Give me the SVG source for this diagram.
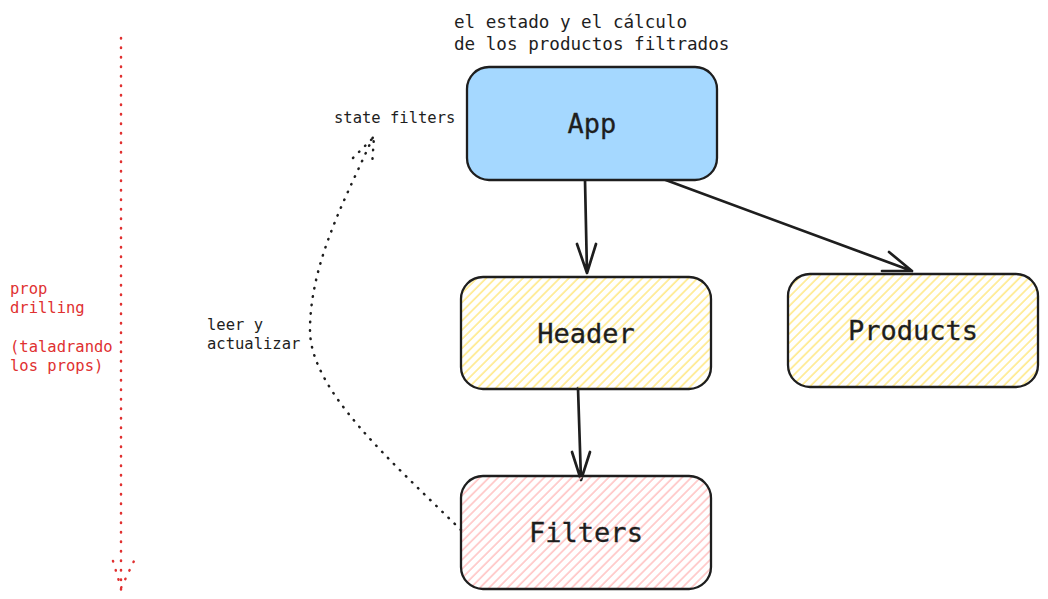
<svg xmlns="http://www.w3.org/2000/svg" width="1048" height="599" viewBox="0 0 1048 599">
<defs>
<pattern id="hy" width="6.5" height="6.5" patternUnits="userSpaceOnUse" patternTransform="rotate(45)"><line x1="1" y1="0" x2="1" y2="6.5" stroke="#ffe98a" stroke-width="1.6"/></pattern>
<pattern id="hp" width="6.5" height="6.5" patternUnits="userSpaceOnUse" patternTransform="rotate(45)"><line x1="1" y1="0" x2="1" y2="6.5" stroke="#ffc4c4" stroke-width="1.6"/></pattern>
</defs>
<style>
.box{stroke:#1e1e1e;stroke-width:2.3}
.lbl{font-family:"DejaVu Sans Mono","Liberation Mono",monospace;font-size:27px;fill:#1e1e1e;text-anchor:middle;stroke:#1e1e1e;stroke-width:0.3}
.note{font-family:"DejaVu Sans Mono","Liberation Mono",monospace;font-size:15.5px;fill:#1e1e1e}
.big{font-size:17.6px}
.red{fill:#e03131}
.arr{fill:none;stroke:#1e1e1e;stroke-width:2.7;stroke-linecap:round;stroke-linejoin:round}
.dot{fill:none;stroke:#1e1e1e;stroke-width:2.5;stroke-linecap:round;stroke-dasharray:0.5 8}
.rdot{fill:none;stroke:#e03131;stroke-width:2.5;stroke-linecap:round;stroke-dasharray:0.5 9}
</style>
<rect width="1048" height="599" fill="#ffffff"/>
<text class="note big" x="454" y="28">el estado y el cálculo</text>
<text class="note big" x="454" y="50">de los productos filtrados</text>
<text class="note" x="334" y="123">state filters</text>
<text class="note" x="207" y="330">leer y</text>
<text class="note" x="207" y="349">actualizar</text>
<g class="note red">
<text x="10" y="294">prop</text>
<text x="10" y="313">drilling</text>
<text x="10" y="352">(taladrando</text>
<text x="10" y="371">los props)</text>
</g>
<g id="connectors">
<path class="arr" d="M585 180 L587 273 M577 244 L587 273 L596 244"/>
<path class="arr" d="M663 179 L912 271 M889 252 L912 271 L882 271"/>
<path class="arr" d="M578 388 L581 480 M572 452 L581 480 L590 452"/>
<path class="dot" d="M461 530 C390 460 310 390 310 330 C310 260 350 190 373 137"/>
<path class="dot" d="M353 158 L374 137 L372 166"/>
<path class="rdot" d="M121 38 L121 590"/>
<path class="rdot" d="M113 561 L121 588 L134 561"/>
</g>
<g id="app">
<rect class="box" x="467" y="67" width="250" height="113" rx="22" fill="#a5d8ff"/>
<text class="lbl" x="592" y="133">App</text>
</g>
<g id="header">
<rect class="box" x="461" y="277" width="250" height="112" rx="22" fill="url(#hy)"/>
<text class="lbl" x="586" y="343">Header</text>
</g>
<g id="products">
<rect class="box" x="788" y="274" width="250" height="113" rx="22" fill="url(#hy)"/>
<text class="lbl" x="913" y="340">Products</text>
</g>
<g id="filters">
<rect class="box" x="461" y="476" width="250" height="113" rx="22" fill="url(#hp)"/>
<text class="lbl" x="586" y="542">Filters</text>
</g>
</svg>
